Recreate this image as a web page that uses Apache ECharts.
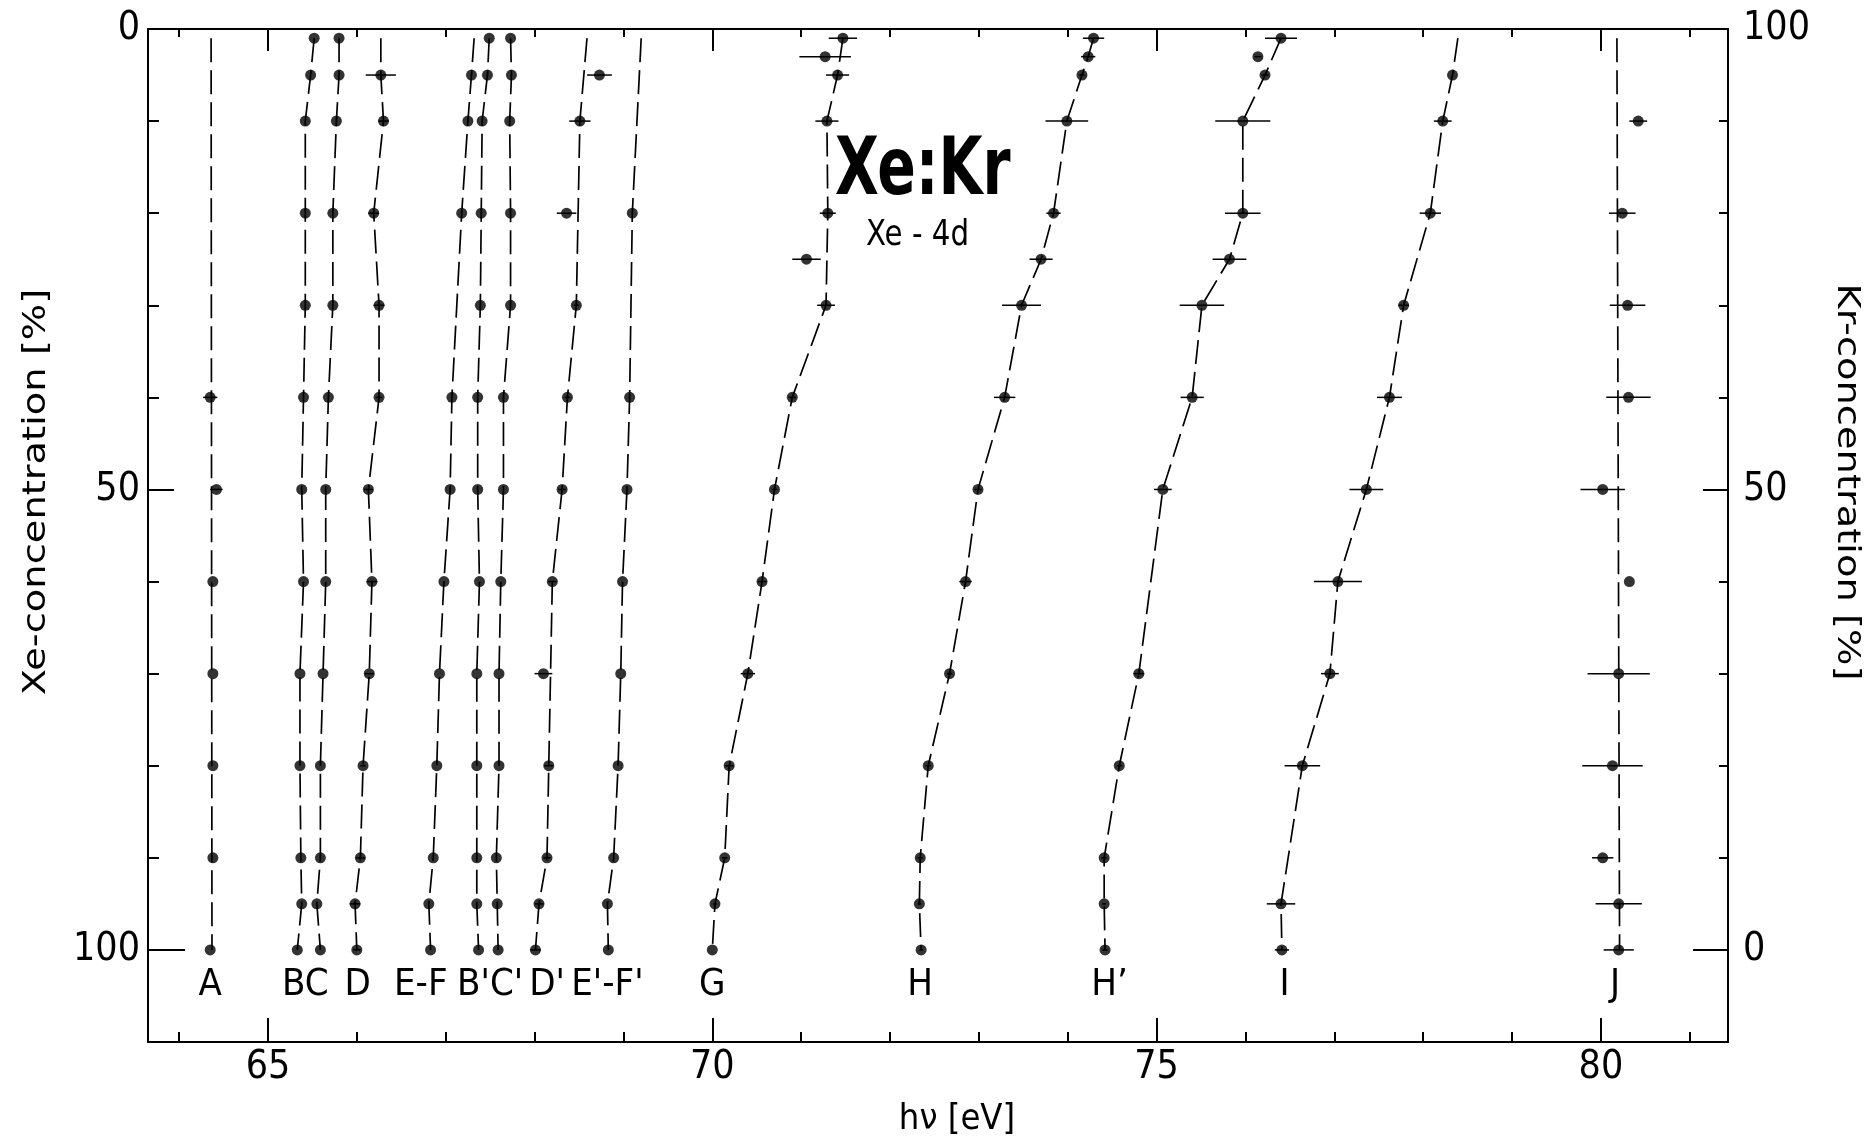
<!DOCTYPE html>
<html>
<head>
<meta charset="utf-8">
<title>Xe:Kr Xe-4d</title>
<script src="https://cdn.jsdelivr.net/npm/echarts@6/dist/echarts.min.js"></script>
<style>
  html, body { margin: 0; padding: 0; background: #fff; }
  #chart { width: 1868px; height: 1139px; }
</style>
</head>
<body>
<div id="chart"></div>
<script>
// axis ranges: photon energy [eV] and Xe-concentration [%] (Kr = 100 - Xe)
const evMin = 63.65, evMax = 81.43
const xeMin = 0, xeMax = 110

const evTicks = [64, 65, 66, 67, 68, 69, 70, 71, 72, 73, 74, 75, 76, 77, 78, 79, 80, 81]
const evLabels = [65, 70, 75, 80]
const xeTicks = [10, 20, 30, 40, 60, 70, 80, 90]
const xeLabels = [0, 50, 100]
const krTicks = [10, 20, 30, 40, 60, 70, 80, 90]
const krLabels = [0, 50, 100]

// measured points: [hν eV, Xe %, half width of error bar eV]
const A = [[64.35, 40, 0.08], [64.42, 50, 0.07], [64.38, 60, 0], [64.38, 70, 0], [64.38, 80, 0], [64.38, 90, 0], [64.35, 100, 0]]
const B = [[65.52, 1, 0], [65.48, 5, 0], [65.42, 10, 0], [65.42, 20, 0], [65.42, 30, 0], [65.40, 40, 0], [65.38, 50, 0], [65.40, 60, 0], [65.36, 70, 0], [65.36, 80, 0], [65.37, 90, 0], [65.38, 95, 0], [65.33, 100, 0]]
const C = [[65.80, 1, 0], [65.80, 5, 0], [65.77, 10, 0], [65.73, 20, 0], [65.73, 30, 0], [65.68, 40, 0], [65.65, 50, 0], [65.65, 60, 0], [65.62, 70, 0], [65.59, 80, 0], [65.59, 90, 0], [65.55, 95, 0], [65.59, 100, 0]]
const D = [[66.27, 5, 0.17], [66.30, 10, 0.06], [66.19, 20, 0.06], [66.25, 30, 0.06], [66.25, 40, 0.03], [66.13, 50, 0.05], [66.17, 60, 0.06], [66.14, 70, 0.05], [66.07, 80, 0.03], [66.04, 90, 0.05], [65.98, 95, 0.06], [66.00, 100, 0.04]]
const EF = [[67.29, 5, 0], [67.25, 10, 0], [67.18, 20, 0], [67.07, 40, 0], [67.05, 50, 0], [66.98, 60, 0], [66.93, 70, 0], [66.90, 80, 0], [66.86, 90, 0], [66.81, 95, 0], [66.83, 100, 0]]
const Bp = [[67.49, 1, 0], [67.47, 5, 0], [67.41, 10, 0], [67.40, 20, 0], [67.39, 30, 0], [67.36, 40, 0], [67.36, 50, 0], [67.38, 60, 0], [67.35, 70, 0], [67.35, 80, 0], [67.35, 90, 0], [67.35, 95, 0], [67.37, 100, 0]]
const Cp = [[67.73, 1, 0], [67.74, 5, 0], [67.72, 10, 0], [67.73, 20, 0], [67.73, 30, 0], [67.65, 40, 0], [67.65, 50, 0], [67.62, 60, 0], [67.60, 70, 0], [67.60, 80, 0], [67.57, 90, 0], [67.58, 95, 0], [67.59, 100, 0]]
const Dp = [[68.73, 5, 0.14], [68.51, 10, 0.12], [68.36, 20, 0.11], [68.47, 30, 0.03], [68.37, 40, 0.03], [68.31, 50, 0.04], [68.20, 60, 0.05], [68.10, 70, 0.1], [68.16, 80, 0.05], [68.14, 90, 0.04], [68.05, 95, 0.05], [68.01, 100, 0.06]]
const EpFp = [[69.10, 20, 0], [69.07, 40, 0], [69.04, 50, 0], [68.99, 60, 0], [68.97, 70, 0], [68.94, 80, 0], [68.89, 90, 0], [68.82, 95, 0], [68.83, 100, 0]]
const G = [[71.47, 1, 0.16], [71.27, 3, 0.29], [71.41, 5, 0.13], [71.29, 10, 0.13], [71.30, 20, 0.09], [71.06, 25, 0.16], [71.28, 30, 0.1], [70.90, 40, 0.04], [70.70, 50, 0.03], [70.56, 60, 0.05], [70.40, 70, 0.08], [70.19, 80, 0.05], [70.14, 90, 0.03], [70.03, 95, 0.02], [70.00, 100, 0]]
const H = [[74.29, 1, 0.12], [74.23, 3, 0.08], [74.16, 5, 0.03], [73.99, 10, 0.24], [73.84, 20, 0.08], [73.70, 25, 0.13], [73.48, 30, 0.22], [73.29, 40, 0.12], [72.99, 50, 0.04], [72.85, 60, 0.07], [72.67, 70, 0.03], [72.43, 80, 0.03], [72.34, 90, 0.03], [72.33, 95, 0.02], [72.35, 100, 0.02]]
const Hp = [[76.40, 1, 0.18], [76.14, 3, 0.04], [76.22, 5, 0.04], [75.97, 10, 0.31], [75.97, 20, 0.2], [75.82, 25, 0.19], [75.51, 30, 0.25], [75.40, 40, 0.13], [75.07, 50, 0.1], [74.80, 70, 0.06], [74.58, 80, 0.03], [74.41, 90, 0.03], [74.41, 95, 0.02], [74.42, 100, 0.03]]
const I = [[78.33, 5, 0], [78.22, 10, 0.1], [78.08, 20, 0.12], [77.78, 30, 0.06], [77.62, 40, 0.14], [77.36, 50, 0.19], [77.04, 60, 0.27], [76.95, 70, 0.1], [76.64, 80, 0.2], [76.40, 95, 0.16], [76.41, 100, 0.08]]
const J = [[80.42, 10, 0.1], [80.24, 20, 0.15], [80.30, 30, 0.2], [80.31, 40, 0.25], [80.02, 50, 0.25], [80.32, 60, 0], [80.20, 70, 0.35], [80.13, 80, 0.34], [80.02, 90, 0.12], [80.20, 95, 0.26], [80.20, 100, 0.17]]

// dashed guide lines: [hν eV, Xe %]
const guideA = [[64.36, 1], [64.37, 100]]
const leadD = [[66.27, 1]]
const leadEF = [[67.32, 1]]
const guideDp = [[68.59, 1], [68.51, 10], [68.49, 20], [68.47, 30], [68.37, 40], [68.31, 50], [68.20, 60], [68.18, 70], [68.16, 80], [68.14, 90], [68.05, 95], [68.01, 100]]
const leadEpFp = [[69.20, 1]]
const guideG = [[71.47, 1], [71.41, 5], [71.29, 10], [71.30, 20], [71.28, 30], [70.90, 40], [70.70, 50], [70.56, 60], [70.40, 70], [70.19, 80], [70.14, 90], [70.03, 95], [70.00, 100]]
const guideHp = [[76.40, 1], [76.22, 5], [75.97, 10], [75.97, 20], [75.82, 25], [75.51, 30], [75.40, 40], [75.07, 50], [74.80, 70], [74.58, 80], [74.41, 90], [74.41, 95], [74.42, 100]]
const leadI = [[78.39, 1]]
const guideJ = [[80.18, 1], [80.21, 100]]

// line names under the curves
const labelText = ['A', 'BC', 'D', 'E-F', "B'C'", "D'", "E'-F'", 'G', 'H', 'H’', 'I', 'J']
const labelEv = [64.35, 65.42, 66.01, 66.72, 67.50, 68.14, 68.82, 70.00, 72.34, 74.47, 76.44, 80.16]
const labelXe = 103.8

const FONT = '"DejaVu Sans Condensed", "DejaVu Sans", sans-serif'
const TITLE_FONT = '"DejaVu Sans", sans-serif'

const pts = arr => arr.map(p => [p[0], p[1]])

const guides = [
  guideA,
  pts(B),
  pts(C),
  leadD.concat(pts(D)),
  leadEF.concat(pts(EF)),
  pts(Bp),
  pts(Cp),
  guideDp,
  leadEpFp.concat(pts(EpFp)),
  guideG,
  pts(H),
  guideHp,
  leadI.concat(pts(I)),
  guideJ
]
const allDots = [].concat(A, B, C, D, EF, Bp, Cp, Dp, EpFp, G, H, Hp, I, J)

const chart = echarts.init(document.getElementById('chart'), null, { renderer: 'canvas' })

const tickStyle = { color: '#000', width: 2 }
const axisLineStyle = { color: '#000', width: 2 }

const xAxisBase = (position, showLine) => ({
  type: 'value',
  position,
  min: evMin,
  max: evMax,
  axisLine: { show: showLine, onZero: false, lineStyle: axisLineStyle },
  splitLine: { show: false },
  axisLabel: { show: false }
})

const yAxisXe = (showLine) => ({
  type: 'value',
  position: 'left',
  inverse: true,
  min: xeMin,
  max: xeMax,
  axisLine: { show: showLine, onZero: false, lineStyle: axisLineStyle },
  splitLine: { show: false },
  axisLabel: { show: false }
})

const yAxisKr = (showLine) => ({
  type: 'value',
  position: 'right',
  min: 100 - xeMax,
  max: 100 - xeMin,
  axisLine: { show: showLine, onZero: false, lineStyle: axisLineStyle },
  splitLine: { show: false },
  axisLabel: { show: false }
})

const labelStyle = { color: '#000', fontSize: 39, fontFamily: FONT }

const option = {
  backgroundColor: '#fff',
  animation: false,
  grid: { left: 148, right: 140, top: 29, bottom: 97, containLabel: false },
  xAxis: [
    Object.assign(xAxisBase('bottom', true), {
      axisTick: { show: true, inside: true, length: 10, customValues: evTicks, lineStyle: tickStyle },
      axisLabel: Object.assign({ show: true, customValues: evLabels, margin: 6 }, labelStyle)
    }),
    Object.assign(xAxisBase('bottom', false), {
      axisTick: { show: true, inside: true, length: 24, customValues: evLabels, lineStyle: tickStyle }
    }),
    Object.assign(xAxisBase('top', true), {
      axisTick: { show: true, inside: true, length: 8, customValues: evTicks, lineStyle: tickStyle }
    }),
    Object.assign(xAxisBase('top', false), {
      axisTick: { show: true, inside: true, length: 22, customValues: evLabels, lineStyle: tickStyle }
    })
  ],
  yAxis: [
    Object.assign(yAxisXe(true), {
      axisTick: { show: true, inside: true, length: 11, customValues: xeTicks, lineStyle: tickStyle },
      axisLabel: Object.assign({ show: true, customValues: xeLabels, margin: 8 }, labelStyle)
    }),
    Object.assign(yAxisXe(false), {
      axisTick: { show: true, inside: true, length: 26, customValues: [50], lineStyle: tickStyle }
    }),
    Object.assign(yAxisXe(false), {
      axisTick: { show: true, inside: true, length: 37, customValues: [100], lineStyle: tickStyle }
    }),
    Object.assign(yAxisKr(true), {
      axisTick: { show: true, inside: true, length: 9, customValues: krTicks, lineStyle: tickStyle },
      axisLabel: Object.assign({ show: true, customValues: krLabels, margin: 15 }, labelStyle)
    }),
    Object.assign(yAxisKr(false), {
      axisTick: { show: true, inside: true, length: 25, customValues: [50], lineStyle: tickStyle }
    }),
    Object.assign(yAxisKr(false), {
      axisTick: { show: true, inside: true, length: 35, customValues: [0], lineStyle: tickStyle }
    })
  ],
  graphic: [
    {
      type: 'text', x: 835, y: 173, scaleX: 0.79,
      style: { text: 'Xe:Kr', font: 'bold 80px ' + FONT, fill: '#000', align: 'left', verticalAlign: 'middle', textAlign: 'left', textVerticalAlign: 'middle' }
    },
    {
      type: 'text', x: 866, y: 236, scaleX: 0.93,
      style: { text: 'Xe - 4d', font: '35px ' + FONT, fill: '#000', align: 'left', verticalAlign: 'middle', textAlign: 'left', textVerticalAlign: 'middle' }
    },
    {
      type: 'text', x: 37, y: 492, rotation: Math.PI / 2, scaleX: 1.2,
      style: { text: 'Xe-concentration [%]', font: '32px ' + TITLE_FONT, fill: '#000', align: 'center', verticalAlign: 'middle', textAlign: 'center', textVerticalAlign: 'middle' }
    },
    {
      type: 'text', x: 1846, y: 482, rotation: -Math.PI / 2, scaleX: 1.2,
      style: { text: 'Kr-concentration [%]', font: '32px ' + TITLE_FONT, fill: '#000', align: 'center', verticalAlign: 'middle', textAlign: 'center', textVerticalAlign: 'middle' }
    },
    {
      type: 'text', x: 957, y: 1120,
      style: { text: 'hν [eV]', font: '36px ' + FONT, fill: '#000', align: 'center', verticalAlign: 'middle', textAlign: 'center', textVerticalAlign: 'middle' }
    }
  ],
  series: [
    ...guides.map(g => ({
      type: 'line',
      xAxisIndex: 0,
      yAxisIndex: 0,
      data: g,
      symbol: 'none',
      silent: true,
      z: 2,
      lineStyle: { color: '#000', width: 1.7, type: [24, 8] }
    })),
    {
      // horizontal error bars
      type: 'custom',
      xAxisIndex: 0,
      yAxisIndex: 0,
      data: allDots,
      encode: { x: 0, y: 1 },
      silent: true,
      z: 3,
      renderItem: (params, api) => {
        const err = api.value(2)
        if (!err) return null
        const a = api.coord([api.value(0) - err, api.value(1)])
        const b = api.coord([api.value(0) + err, api.value(1)])
        return {
          type: 'line',
          shape: { x1: a[0], y1: a[1], x2: b[0], y2: b[1] },
          style: { stroke: '#000', lineWidth: 1.5 }
        }
      }
    },
    {
      type: 'scatter',
      xAxisIndex: 0,
      yAxisIndex: 0,
      data: allDots.map(p => [p[0], p[1]]),
      symbol: 'circle',
      symbolSize: 11,
      silent: true,
      z: 4,
      itemStyle: { color: '#000' }
    },
    {
      // line names
      type: 'custom',
      xAxisIndex: 0,
      yAxisIndex: 0,
      data: labelEv.map((ev, i) => [ev, labelXe, i]),
      encode: { x: 0, y: 1 },
      silent: true,
      z: 5,
      renderItem: (params, api) => {
        const c = api.coord([api.value(0), api.value(1)])
        return {
          type: 'text',
          x: c[0],
          y: c[1],
          style: {
            text: labelText[api.value(2)],
            font: '38px ' + FONT,
            fill: '#000',
            align: 'center', verticalAlign: 'middle',
            textAlign: 'center', textVerticalAlign: 'middle'
          }
        }
      }
    }
  ]
}

chart.setOption(option)
</script>
</body>
</html>
